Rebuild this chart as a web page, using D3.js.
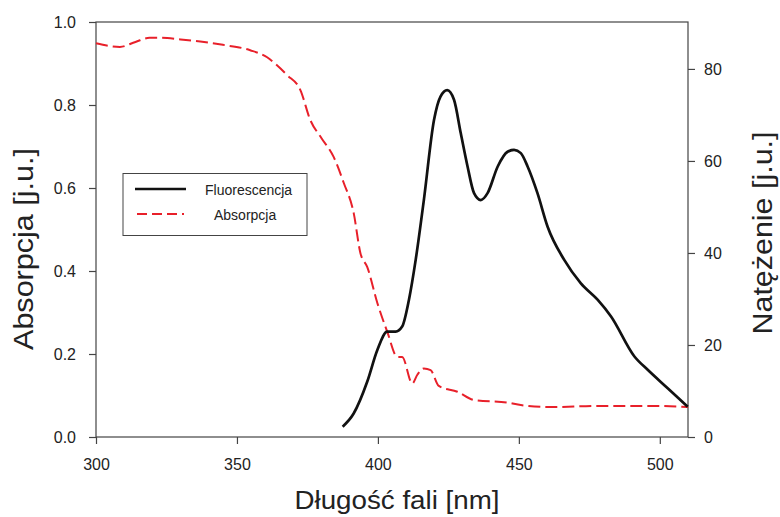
<!DOCTYPE html>
<html><head><meta charset="utf-8">
<script src="https://cdn.jsdelivr.net/npm/d3@7"></script>
<style>body{margin:0;background:#fff}svg{display:block}text{font-family:"Liberation Sans",Arial,sans-serif;fill:#222}</style>
</head><body><svg id="c" width="780" height="517"></svg>
<script>
const absWl = [300,308.5,314,319,322.7,330,337,345,354.7,360.7,364,367.8,372.5,376,380,384.3,387.9,391.4,393.8,396.2,399.8,403.3,406.9,408.6,412.2,414,416.3,418.7,421.6,428.2,434.1,446,450.7,461.3,478,498,510];
const absVal = [0.949,0.940,0.952,0.962,0.962,0.958,0.953,0.945,0.932,0.915,0.897,0.872,0.836,0.764,0.72,0.675,0.612,0.54,0.443,0.41,0.323,0.254,0.193,0.193,0.129,0.15,0.165,0.161,0.123,0.109,0.089,0.083,0.077,0.072,0.075,0.075,0.072];
const flWl = [387.5,391.4,396.2,399.8,403.3,406.3,408.6,411,413.4,416.3,419.9,422.2,424.6,427,429.4,431.8,434.1,436.5,438.9,442.5,446,448.3,450.7,453.1,456.6,460.2,466.1,472,478,482.7,491,495.7,502.8,509.9];
const flVal = [2.25,5.1,12,18.9,22.9,22.9,24,29.8,38.5,51.5,68.9,74,75.4,73.3,66,58.8,53,51.5,53,58.8,62,62.4,61.7,58.8,53,45.7,38.5,33.4,29.8,26.2,17.5,14.6,10.6,6.6];
const xTicks = [300,350,400,450,500];
const yLeftTicks = [0,0.2,0.4,0.6,0.8,1.0];
const yRightTicks = [0,20,40,60,80];
const labels = {x:"Długość fali [nm]", yl:"Absorpcja [j.u.]", yr:"Natężenie [j.u.]", fl:"Fluorescencja", ab:"Absorpcja"};

const svg = d3.select("#c");
const L=96,R=688,T=22,B=437;
const x = d3.scaleLinear().domain([300,510]).range([L,R]);
const yl = d3.scaleLinear().domain([0,1]).range([B,T]);
const yr = d3.scaleLinear().domain([0,90.2]).range([B,T]);
const axc="#444";

function styleAxis(g){g.select(".domain").remove();g.selectAll("line").attr("stroke",axc).attr("stroke-width",1.2);g.selectAll("text").attr("font-size",16).attr("fill","#222").style("font-family","Liberation Sans, Arial, sans-serif");}
svg.append("g").attr("transform",`translate(0,${B})`).call(d3.axisBottom(x).tickValues(xTicks).tickFormat(d3.format("d")).tickSize(7).tickPadding(15)).call(styleAxis);
svg.append("g").attr("transform",`translate(${L},0)`).call(d3.axisLeft(yl).tickValues(yLeftTicks).tickFormat(d3.format(".1f")).tickSize(7).tickPadding(13)).call(styleAxis);
svg.append("g").attr("transform",`translate(${R},0)`).call(d3.axisRight(yr).tickValues(yRightTicks).tickFormat(d3.format("d")).tickSize(7).tickPadding(9)).call(styleAxis);
svg.append("rect").attr("x",L).attr("y",T).attr("width",R-L).attr("height",B-T).attr("fill","none").attr("stroke",axc).attr("stroke-width",1.2);

const absLine = d3.line().x((d,i)=>x(absWl[i])).y(d=>yl(d)).curve(d3.curveMonotoneX);
svg.append("path").attr("d",absLine(absVal)).attr("fill","none").attr("stroke","#e8202a").attr("stroke-width",2).attr("stroke-dasharray","12,5");
const flLine = d3.line().x((d,i)=>x(flWl[i])).y(d=>yr(d)).curve(d3.curveMonotoneX);
svg.append("path").attr("d",flLine(flVal)).attr("fill","none").attr("stroke","#111").attr("stroke-width",2.7);

svg.append("text").attr("x",397).attr("y",509).attr("text-anchor","middle").attr("font-size",25).attr("textLength",205).attr("lengthAdjust","spacingAndGlyphs").text(labels.x);
svg.append("text").attr("transform",`translate(33,249) rotate(-90)`).attr("text-anchor","middle").attr("font-size",27).attr("textLength",202).attr("lengthAdjust","spacingAndGlyphs").text(labels.yl);
svg.append("text").attr("transform",`translate(772,233) rotate(-90)`).attr("text-anchor","middle").attr("font-size",27).attr("textLength",203).attr("lengthAdjust","spacingAndGlyphs").text(labels.yr);

const lg = svg.append("g");
lg.append("rect").attr("x",123).attr("y",173.5).attr("width",184).attr("height",62).attr("fill","#fff").attr("stroke","#444").attr("stroke-width",1);
lg.append("line").attr("x1",135).attr("x2",186).attr("y1",189).attr("y2",189).attr("stroke","#111").attr("stroke-width",2.4);
lg.append("line").attr("x1",137).attr("x2",184).attr("y1",214).attr("y2",214).attr("stroke","#e8202a").attr("stroke-width",2).attr("stroke-dasharray","10,5");
lg.append("text").attr("x",205).attr("y",194.5).attr("font-size",14).text(labels.fl);
lg.append("text").attr("x",214).attr("y",219.5).attr("font-size",14).text(labels.ab);
</script></body></html>
